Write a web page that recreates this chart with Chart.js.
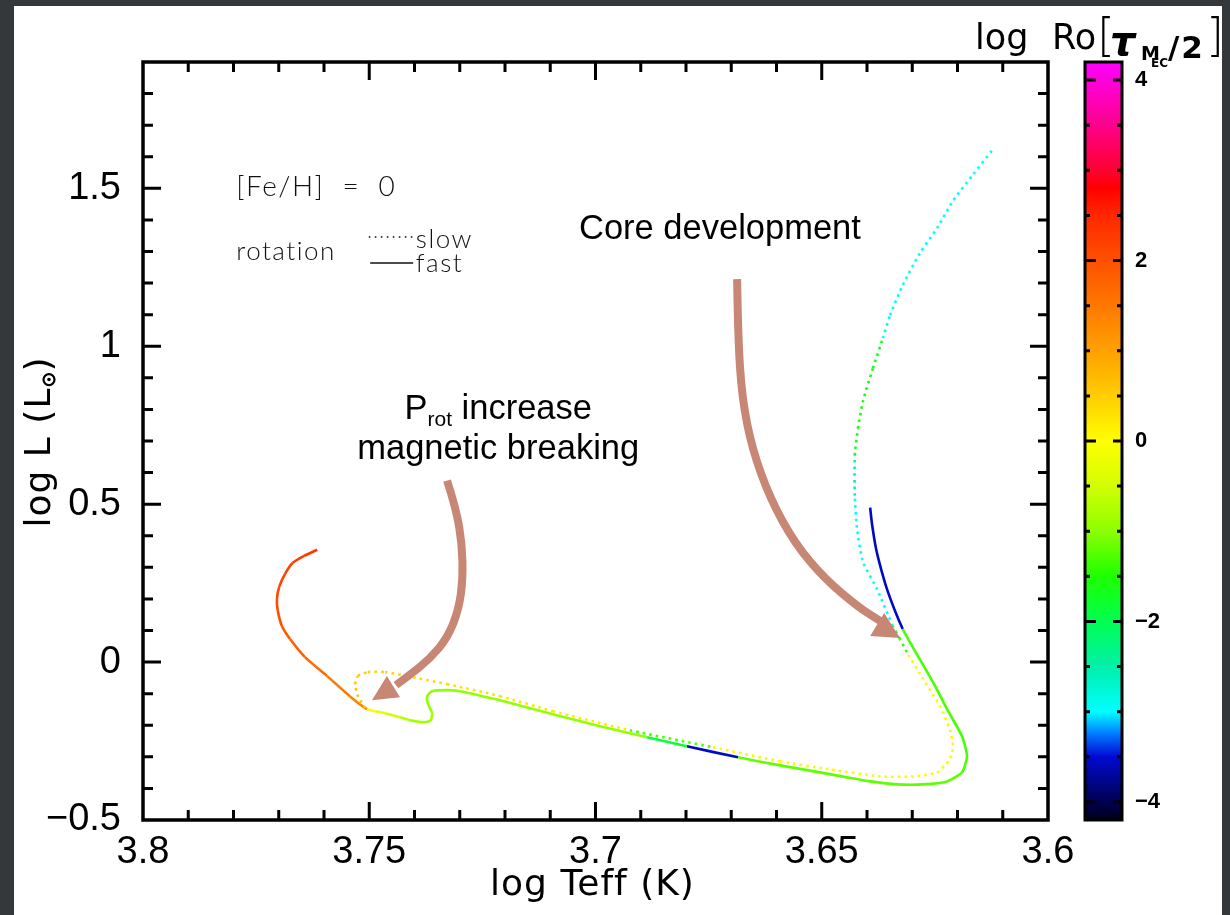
<!DOCTYPE html>
<html><head><meta charset="utf-8">
<script src="https://cdn.jsdelivr.net/npm/chart.js@4.4.1/dist/chart.umd.min.js"></script>
<style>
html,body{margin:0;padding:0;background:#35383b;width:1230px;height:915px;overflow:hidden}
#paper{position:absolute;left:14px;top:6px;width:1208px;height:909px;background:#fff}
#main{position:absolute;left:0;top:0}
#cbar{position:absolute;left:960px;top:0}
</style></head><body>
<div id="paper"></div>
<canvas id="main" width="1230" height="915"></canvas>
<canvas id="cbar" width="270" height="915"></canvas>
<script>
// ---------- data ----------
const fastTeff = [3.6393,3.6389,3.6380,3.6369,3.6356,3.6338,3.6321,3.6309,3.6290,3.6254,3.6223,3.6190,3.6179,3.6190,3.6223,3.6276,3.6334,3.6393,3.6444,3.6504,3.6592,3.6685,3.6798,3.6886,3.6990,3.7094,3.7211,3.7240,3.7299,3.7328,3.7361,3.7372,3.7370,3.7361,3.7364,3.7377,3.7410,3.7432,3.7465,3.7487,3.7505,3.7543,3.7593,3.7642,3.7675,3.7693,3.7702,3.7704,3.7699,3.7686,3.7669,3.7644,3.7615];
const fastLogL = [0.4889,0.4381,0.3587,0.2952,0.2317,0.1619,0.1048,0.0730,0.0254,-0.0635,-0.1492,-0.2349,-0.2984,-0.3492,-0.3778,-0.3873,-0.3873,-0.3778,-0.3651,-0.3492,-0.3270,-0.3016,-0.2667,-0.2381,-0.2032,-0.1651,-0.1206,-0.1111,-0.0921,-0.0889,-0.0921,-0.1079,-0.1333,-0.1619,-0.1841,-0.1905,-0.1841,-0.1746,-0.1619,-0.1556,-0.1492,-0.1079,-0.0444,0.0159,0.0730,0.1143,0.1619,0.2000,0.2381,0.2794,0.3143,0.3365,0.3556];
const fastLogRo = [-3.55,-3.55,-3.55,-3.55,-3.55,-3.55,-1.3,-1.3,-1.3,-1.3,-1.3,-1.3,-1.3,-1.2,-1.2,-1.2,-1.2,-1.2,-1.2,-1.2,-1.2,-3.55,-1.85,-0.95,-0.95,-0.95,-0.95,-0.95,-0.95,-0.95,-0.95,-0.95,-0.95,-0.85,-0.85,-0.85,-0.7,-0.5,-0.25,0.05,1.35,1.5,1.65,1.8,1.9,2.0,2.05,2.1,2.15,2.2,2.25,2.3,2.3];

const slowTeff = [3.7509,3.7525,3.7531,3.7525,3.7503,3.7465,3.7417,3.7328,3.7211,3.7094,3.6924,3.6740,3.6592,3.6482,3.6371,3.6298,3.6245,3.6217,3.6210,3.6217,3.6239,3.6276,3.6312,3.6327,3.6343,3.6378,3.6409,3.6422,3.6427,3.6427,3.6420,3.6409,3.6387,3.6365,3.6349,3.6321,3.6283,3.6245,3.6210,3.6166,3.6124];
const slowLogL = [-0.1460,-0.1079,-0.0698,-0.0444,-0.0317,-0.0317,-0.0444,-0.0698,-0.1079,-0.1556,-0.2159,-0.2698,-0.3143,-0.3397,-0.3619,-0.3619,-0.3492,-0.3079,-0.2667,-0.2127,-0.1397,-0.0540,0.0317,0.0730,0.1143,0.2317,0.3175,0.4222,0.5270,0.6540,0.7397,0.8254,0.9302,1.0254,1.0984,1.1937,1.2952,1.3746,1.4603,1.5429,1.6190];
const slowLogRo = [0.6,0.6,0.55,0.5,0.45,0.4,0.35,0.3,0.25,0.2,-1.3,0.1,0.05,0.05,0.05,0.05,0.05,0.05,0.05,0.05,0.05,0.05,-1.4,-1.5,-3.0,-3.0,-3.0,-3.0,-2.6,-1.7,-1.6,-1.6,-1.7,-2.9,-3.0,-3.0,-3.0,-3.0,-3.0,-3.0,-3.0];

const xTicks = [3.8, 3.75, 3.7, 3.65, 3.6];
const xTickLabels = ['3.8', '3.75', '3.7', '3.65', '3.6'];
const yTicks = [-0.5, 0, 0.5, 1, 1.5];
const yTickLabels = ['\u22120.5', '0', '0.5', '1', '1.5'];
const cbTicks = [-4, -2, 0, 2, 4];
const cbTickLabels = ['\u22124', '\u22122', '0', '2', '4'];

// arrows (data coordinates: log Teff, log L)
const arrowCoreShaft = [[3.6687,1.2127],[3.6685,1.0254],[3.6676,0.8349],[3.6654,0.6762],[3.6614,0.5175],[3.6559,0.3746],[3.6493,0.2635],[3.6420,0.1746],[3.6371,0.1302]];
const arrowCoreHead = [[3.6327,0.0762],[3.6393,0.0825],[3.6362,0.1556]];
const arrowProtShaft = [[3.7328,0.5746],[3.7308,0.4857],[3.7295,0.3746],[3.7293,0.2635],[3.7302,0.1683],[3.7326,0.0794],[3.7366,0.0095],[3.7417,-0.0476],[3.7441,-0.0730]];
const arrowProtHead = [[3.7494,-0.1206],[3.7461,-0.0444],[3.7432,-0.1111]];

// colour table for log Ro
const cmapStops = [
 [-4.2,0,0,25],[-4.0,0,0,80],[-3.5,0,10,210],[-3.25,0,120,255],[-3.0,0,255,255],
 [-2.5,0,240,170],[-2.0,0,255,80],[-1.5,30,255,0],[-1.0,140,255,0],[-0.5,210,255,0],
 [0,255,255,0],[0.5,255,205,0],[1.0,255,160,0],[1.5,255,120,0],[2.0,255,80,0],
 [2.5,255,40,0],[2.8,255,0,0],[3.0,255,0,50],[3.5,255,0,140],[4.0,255,0,220],[4.2,255,0,255]
];
function cmap(v){
  const s = cmapStops;
  if (v <= s[0][0]) return `rgb(${s[0][1]},${s[0][2]},${s[0][3]})`;
  for (let i=0;i<s.length-1;i++){
    if (v <= s[i+1][0]) {
      const t = (v - s[i][0])/(s[i+1][0]-s[i][0]);
      const c = [1,2,3].map(k => Math.round(s[i][k] + t*(s[i+1][k]-s[i][k])));
      return `rgb(${c[0]},${c[1]},${c[2]})`;
    }
  }
  const l = s[s.length-1];
  return `rgb(${l[1]},${l[2]},${l[3]})`;
}

const ARROW = 'rgb(200,134,116)';
function drawArrow(ctx, pts, head){
  ctx.save();
  ctx.strokeStyle = ARROW; ctx.fillStyle = ARROW;
  ctx.lineWidth = 8; ctx.lineCap = 'butt'; ctx.lineJoin = 'round';
  ctx.beginPath(); ctx.moveTo(pts[0][0], pts[0][1]);
  for (let i=1;i<pts.length-1;i++){
    const mx=(pts[i][0]+pts[i+1][0])/2, my=(pts[i][1]+pts[i+1][1])/2;
    ctx.quadraticCurveTo(pts[i][0], pts[i][1], mx, my);
  }
  ctx.lineTo(pts[pts.length-1][0], pts[pts.length-1][1]);
  ctx.stroke();
  ctx.beginPath(); ctx.moveTo(head[0][0],head[0][1]); ctx.lineTo(head[1][0],head[1][1]); ctx.lineTo(head[2][0],head[2][1]); ctx.closePath(); ctx.fill();
  ctx.restore();
}

const noOverhang = s => { s.paddingLeft = 0; s.paddingRight = 0; s.paddingTop = 0; s.paddingBottom = 0; };

const overlayPlugin = {
  id: 'overlay',
  afterDatasetsDraw(chart){
    const ctx = chart.ctx, xs = chart.scales.x, ys = chart.scales.y;
    const P = p => [xs.getPixelForValue(p[0]), ys.getPixelForValue(p[1])];
    drawArrow(ctx, arrowCoreShaft.map(P), arrowCoreHead.map(P));
    drawArrow(ctx, arrowProtShaft.map(P), arrowProtHead.map(P));
  },
  afterDraw(chart){
    const ctx = chart.ctx, xs = chart.scales.x, ys = chart.scales.y, ca = chart.chartArea;
    const X = v => xs.getPixelForValue(v), Y = v => ys.getPixelForValue(v);
    ctx.save();
    // ticks (inward, all four sides)
    ctx.strokeStyle = '#000'; ctx.lineWidth = 3; ctx.lineCap = 'butt';
    ctx.beginPath();
    for (let k=1;k<20;k++){
      const px = X(3.6 + k*0.01), len = (k%5===0) ? 18 : 10;
      ctx.moveTo(px, ca.bottom); ctx.lineTo(px, ca.bottom-len);
      ctx.moveTo(px, ca.top); ctx.lineTo(px, ca.top+len);
    }
    for (let k=1;k<24;k++){
      const py = Y(-0.5 + k*0.1), len = (k%5===0) ? 18 : 10;
      ctx.moveTo(ca.left, py); ctx.lineTo(ca.left+len, py);
      ctx.moveTo(ca.right, py); ctx.lineTo(ca.right-len, py);
    }
    ctx.stroke();
    ctx.lineWidth = 3.5;
    ctx.strokeRect(ca.left, ca.top, ca.right-ca.left, ca.bottom-ca.top);

    // axis titles
    ctx.fillStyle = '#000';
    ctx.font = '36px "DejaVu Sans"';
    try { ctx.letterSpacing = '1px'; } catch(e) {}
    ctx.textAlign = 'center'; ctx.textBaseline = 'alphabetic';
    ctx.fillText('log Teff (K)', (ca.left+ca.right)/2 - 3, 895);

    // y title rotated
    ctx.save();
    ctx.translate(50, (ca.top+ca.bottom)/2 + 1);
    ctx.rotate(-Math.PI/2);
    ctx.textAlign = 'left';
    const a = 'log L (L', b = ')';
    const wa = ctx.measureText(a).width, wb = ctx.measureText(b).width, wsun = 16;
    const x0 = -(wa + wsun + wb)/2;
    ctx.fillText(a, x0, 0);
    ctx.lineWidth = 2.2; ctx.strokeStyle = '#000';
    ctx.beginPath(); ctx.arc(x0 + wa + wsun/2, -1, 5.5, 0, Math.PI*2); ctx.stroke();
    ctx.beginPath(); ctx.arc(x0 + wa + wsun/2, -1, 1.8, 0, Math.PI*2); ctx.fill();
    ctx.fillText(b, x0 + wa + wsun, 0);
    ctx.restore();
    try { ctx.letterSpacing = '0px'; } catch(e) {}

    // legend block
    ctx.fillStyle = '#111';
    ctx.textAlign = 'left';
    ctx.font = '300 28px Lato';
    try { ctx.letterSpacing = '1.5px'; } catch(e) {}
    ctx.fillText('[Fe/H]  =  0', X(3.7794), Y(1.4762));
    ctx.font = '300 26px Lato';
    ctx.fillText('rotation', X(3.7794), Y(1.2730));
    ctx.fillText('slow', X(3.7397), Y(1.3111));
    ctx.fillText('fast', X(3.7397), Y(1.2349));
    try { ctx.letterSpacing = '0px'; } catch(e) {}
    ctx.strokeStyle = '#111'; ctx.lineWidth = 1.6;
    ctx.setLineDash([1.6, 4.4]);
    ctx.beginPath(); ctx.moveTo(X(3.7501), Y(1.3460)); ctx.lineTo(X(3.7399), Y(1.3460)); ctx.stroke();
    ctx.setLineDash([]);
    ctx.beginPath(); ctx.moveTo(X(3.7498), Y(1.2635)); ctx.lineTo(X(3.7403), Y(1.2635)); ctx.stroke();

    // annotations
    ctx.fillStyle = '#000';
    ctx.font = '34.5px "Liberation Sans"';
    ctx.textAlign = 'center';
    ctx.fillText('Core development', X(3.6725), Y(1.3397));
    ctx.fillText('magnetic breaking', X(3.7215), Y(0.6444));
    ctx.textAlign = 'left';
    const bigF = '34.5px "Liberation Sans"', subF = '21px "Liberation Sans"';
    ctx.font = bigF; const wP = ctx.measureText('P').width, wInc = ctx.measureText(' increase').width;
    ctx.font = subF; const wRot = ctx.measureText('rot').width;
    let sx = X(3.7215) - (wP + wRot + wInc)/2; const by = Y(0.7683);
    ctx.font = bigF; ctx.fillText('P', sx, by);
    ctx.font = subF; ctx.fillText('rot', sx + wP, by + 7);
    ctx.font = bigF; ctx.fillText(' increase', sx + wP + wRot, by);
    ctx.restore();
  }
};

const mainChart = new Chart(document.getElementById('main'), {
  type: 'scatter',
  data: { datasets: [
    { label: 'slow rotation', data: slowTeff.map((x,i)=>({x:x, y:slowLogL[i]})),
      showLine: true, pointRadius: 0, borderWidth: 2.6, borderDash: [2.6, 4], tension: 0.2,
      borderColor: cmap(slowLogRo[0]),
      segment: { borderColor: c => cmap(slowLogRo[c.p0DataIndex]) } },
    { label: 'fast rotation', data: fastTeff.map((x,i)=>({x:x, y:fastLogL[i]})),
      showLine: true, pointRadius: 0, borderWidth: 2.6, borderJoinStyle: 'round', tension: 0.2,
      borderColor: cmap(fastLogRo[0]),
      segment: { borderColor: c => cmap(fastLogRo[c.p0DataIndex]) } }
  ]},
  options: {
    responsive: false, animation: false, devicePixelRatio: 1, events: [],
    layout: { padding: { left: 0, top: 62, right: 182, bottom: 0 } },
    plugins: { legend: { display: false }, tooltip: { enabled: false } },
    scales: {
      x: { type: 'linear', reverse: true, min: 3.6, max: 3.8,
        grid: { display: false, drawTicks: false }, border: { display: false },
        afterBuildTicks: s => { s.ticks = xTicks.map(v => ({ value: v })); },
        afterFit: s => { s.height = 95; noOverhang(s); },
        ticks: { callback: v => xTickLabels[xTicks.indexOf(v)], autoSkip: false, maxRotation: 0,
          font: { family: 'Liberation Sans', size: 38 }, color: '#000', padding: 10 } },
      y: { type: 'linear', min: -0.5, max: 1.9,
        grid: { display: false, drawTicks: false }, border: { display: false },
        afterBuildTicks: s => { s.ticks = yTicks.map(v => ({ value: v })); },
        afterFit: s => { s.width = 143; noOverhang(s); },
        ticks: { callback: v => yTickLabels[yTicks.indexOf(v)], autoSkip: false,
          font: { family: 'Liberation Sans', size: 38 }, color: '#000', padding: 22 } }
    }
  },
  plugins: [overlayPlugin]
});

// ---------- colour bar ----------
const cbarPlugin = {
  id: 'cbar',
  beforeDatasetsDraw(chart){
    const ctx = chart.ctx, ys = chart.scales.y, ca = chart.chartArea;
    const g = ctx.createLinearGradient(0, ca.top, 0, ca.bottom);
    cmapStops.forEach(s => {
      let p = (ys.getPixelForValue(s[0]) - ca.top)/(ca.bottom - ca.top);
      p = Math.min(1, Math.max(0, p));
      g.addColorStop(p, `rgb(${s[1]},${s[2]},${s[3]})`);
    });
    ctx.save(); ctx.fillStyle = g; ctx.fillRect(ca.left, ca.top, ca.right-ca.left, ca.bottom-ca.top); ctx.restore();
  },
  afterDraw(chart){
    const ctx = chart.ctx, ys = chart.scales.y, ca = chart.chartArea;
    ctx.save();
    ctx.strokeStyle = '#000'; ctx.lineWidth = 3;
    ctx.beginPath();
    for (let k=0;k<=16;k++){
      const v = -4 + k*0.5, py = ys.getPixelForValue(v), major = (k%4===0);
      ctx.moveTo(ca.left, py); ctx.lineTo(ca.left + (major ? 11 : 5), py);
      ctx.moveTo(ca.right, py); ctx.lineTo(ca.right - (major ? 9 : 5), py);
    }
    ctx.stroke();
    ctx.strokeRect(ca.left, ca.top, ca.right-ca.left, ca.bottom-ca.top);
    // title: log Ro[tau_{M_EC/2}]
    const L = ca.left;
    ctx.fillStyle = '#000'; ctx.textAlign = 'left'; ctx.textBaseline = 'alphabetic';
    ctx.font = '35px "DejaVu Sans"';
    ctx.fillText('log', L - 110, 49);
    ctx.fillText('Ro', L - 33, 49);
    ctx.font = '200 46px "DejaVu Sans"';
    ctx.fillText('[', L + 12, 51);
    ctx.fillText(']', L + 121, 51);
    ctx.font = 'italic bold 40px "DejaVu Sans"';
    ctx.fillText('\u03C4', L + 25, 55);
    ctx.font = 'bold 19px "DejaVu Sans"';
    ctx.fillText('M', L + 56, 60);
    ctx.font = 'bold 12px "DejaVu Sans"';
    ctx.fillText('EC', L + 66, 67);
    ctx.font = 'bold 31px "DejaVu Sans"';
    try { ctx.letterSpacing = '2px'; } catch(e) {}
    ctx.fillText('/2', L + 83, 58);
    ctx.restore();
  }
};

const cbarChart = new Chart(document.getElementById('cbar'), {
  type: 'scatter',
  data: { datasets: [] },
  options: {
    responsive: false, animation: false, devicePixelRatio: 1, events: [],
    layout: { padding: { left: 125, top: 62, right: 0, bottom: 95 } },
    plugins: { legend: { display: false }, tooltip: { enabled: false } },
    scales: {
      x: { display: false, min: 0, max: 1 },
      y: { position: 'right', min: -4.2, max: 4.2,
        grid: { display: false, drawTicks: false }, border: { display: false },
        afterBuildTicks: s => { s.ticks = cbTicks.map(v => ({ value: v })); },
        afterFit: s => { s.width = 108; noOverhang(s); },
        ticks: { callback: v => cbTickLabels[cbTicks.indexOf(v)], autoSkip: false,
          font: { family: 'Liberation Sans', size: 22, weight: 'bold' }, color: '#000', padding: 13 } }
    }
  },
  plugins: [cbarPlugin]
});
</script>
</body></html>
